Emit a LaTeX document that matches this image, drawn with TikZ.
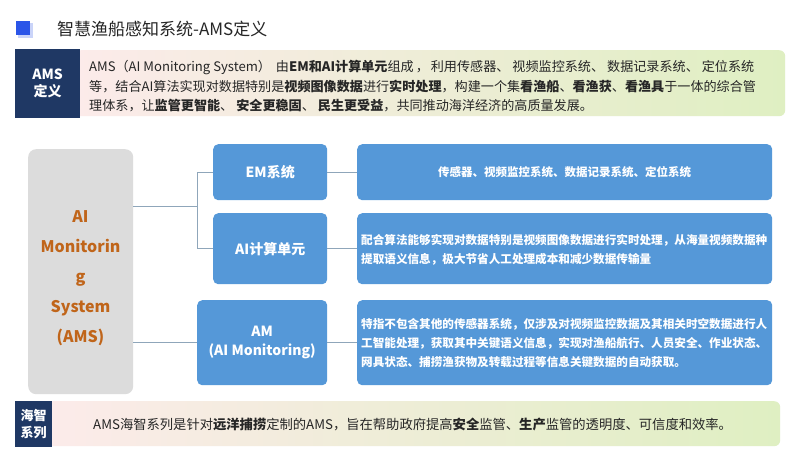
\documentclass[tikz,border=0pt]{standalone}
\usepackage{fontspec}
\setmainfont{Noto Sans CJK SC}
\usetikzlibrary{positioning}
\definecolor{navy}{HTML}{1F3864}
\definecolor{boxblue}{HTML}{5598D8}
\definecolor{grayfill}{HTML}{DCDCDC}
\definecolor{orangetxt}{HTML}{C0651A}
\definecolor{linegray}{HTML}{8FA6BA}
\definecolor{pinkbg}{HTML}{FCEBEA}
\definecolor{greenbg}{HTML}{DFEFC2}
\definecolor{titleblue}{HTML}{2B55E8}
\tikzset{
  bluebox/.style={draw=none, fill=boxblue, rounded corners=5pt, text=white, font=\bfseries\fontsize{14}{19}\selectfont, align=center},
  descbox/.style={draw=none, fill=boxblue, rounded corners=5pt, text=white, font=\bfseries\fontsize{11.5}{19}\selectfont},
  navybox/.style={draw=none, fill=navy, text=white, font=\bfseries\fontsize{14}{17}\selectfont, align=center},
  gradbox/.style={draw=none, left color=pinkbg, right color=greenbg, rounded corners=6pt},
  conn/.style={draw=linegray, line width=1pt},
}
\newcommand{\dsep}{、\hspace{3pt}}
\begin{document}
\begin{tikzpicture}[x=1pt,y=-1pt]
\useasboundingbox[fill=white] (0,0) rectangle (800,450);
% title
\fill[titleblue!25] (18,23) rectangle (33,38);
\node[fill=titleblue, minimum width=14pt, minimum height=14pt, inner sep=0] (sq) at (23,27.5) {};
\node[anchor=west, inner sep=0, font=\fontsize{17}{19}\selectfont, text=black!85] (title) at (57,29) {智慧渔船感知系统-AMS定义};
% top band
\node[gradbox, minimum width=710pt, minimum height=66pt, anchor=north west, inner sep=0] (topband) at (75,50) {};
\node[navybox, minimum width=65pt, minimum height=69pt, anchor=north west, inner sep=0] (amsdef) at (15,49) {AMS\\定义};
\node[anchor=west, inner sep=0, align=left, font=\fontsize{13.1}{19.5}\selectfont, text=black!85] (toptext) at (89,86.5)
{AMS（AI Monitoring System）\hspace{5pt}由\textbf{EM和AI计算单元}组成\hspace{2pt}，\hspace{2pt}利用传感器\dsep 视频监控系统\dsep 数据记录系统\dsep 定位系统\\
等，结合AI算法实现对数据特别是\textbf{视频图像数据}进行\textbf{实时处理}，构建一个集\textbf{看渔船}、\textbf{看渔获}、\textbf{看渔具}于一体的综合管\\
理体系，让\textbf{监管更智能}\dsep\textbf{安全更稳固}\dsep\textbf{民生更受益}，共同推动海洋经济的高质量发展。};
% left gray box
\node[fill=grayfill, rounded corners=8pt, minimum width=105pt, minimum height=245pt, anchor=north west, inner sep=0] (ams) at (28,149) {};
\node[text=orangetxt, font=\bfseries\fontsize{16}{30}\selectfont, align=center, inner sep=0] (amstext) at (80.5,278) {AI\\Monitorin\\g\\System\\(AMS)};
% middle boxes
\node[bluebox, minimum width=114pt, minimum height=56pt, anchor=north west, inner sep=0] (em) at (213,144) {EM系统};
\node[bluebox, minimum width=114pt, minimum height=71pt, anchor=north west, inner sep=0] (ai) at (213,213) {AI计算单元};
\node[bluebox, minimum width=130pt, minimum height=85pt, anchor=north west, inner sep=0] (am) at (197,300) {AM\\(AI Monitoring)};
% right boxes
\node[descbox, minimum width=415pt, minimum height=56pt, anchor=north west, inner sep=0] (r1) at (357,144) {传感器、视频监控系统、数据记录系统、定位系统};
\node[descbox, minimum width=415pt, minimum height=71pt, anchor=north west, inner sep=0] (r2) at (357,213) {};
\node[anchor=west, inner sep=0, align=left, text=white, font=\bfseries\fontsize{11.6}{19}\selectfont] (r2t) at (361,249.5)
{配合算法能够实现对数据特别是视频图像数据进行实时处理，从海量视频数据种\\提取语义信息，极大节省人工处理成本和减少数据传输量};
\node[descbox, minimum width=415pt, minimum height=85pt, anchor=north west, inner sep=0] (r3) at (357,300) {};
\node[anchor=west, inner sep=0, align=left, text=white, font=\bfseries\fontsize{11.6}{19}\selectfont] (r3t) at (361,343)
{特指不包含其他的传感器系统，仅涉及对视频监控数据及其相关时空数据进行人\\工智能处理，获取其中关键语义信息，实现对渔船航行、人员安全、作业状态、\\网具状态、捕捞渔获物及转载过程等信息关键数据的自动获取。};
% connectors
\coordinate (j1) at (197,206);
\draw[conn] (ams.east |- j1) -- (j1);
\draw[conn] (j1) |- (em.west);
\draw[conn] (j1) |- (ai.west);
\draw[conn] (ams.east |- am.west) -- (am.west);
\draw[conn] (em.east) -- (r1.west);
\draw[conn] (ai.east) -- (r2.west);
\draw[conn] (am.east) -- (r3.west);
% bottom band
\node[gradbox, minimum width=733pt, minimum height=45pt, anchor=north west, inner sep=0] (botband) at (47,401) {};
\node[navybox, font=\bfseries\fontsize{13}{17}\selectfont, minimum width=37pt, minimum height=46pt, anchor=north west, inner sep=0] (hz) at (15,401) {海智\\系列};
\node[anchor=west, inner sep=0, font=\fontsize{13.3}{16}\selectfont, text=black!85] (bottext) at (93,424)
{AMS海智系列是针对\textbf{远洋捕捞}定制的AMS，旨在帮助政府提高\textbf{安全}监管、\textbf{生产}监管的透明度、可信度和效率。};
\end{tikzpicture}
\end{document}
